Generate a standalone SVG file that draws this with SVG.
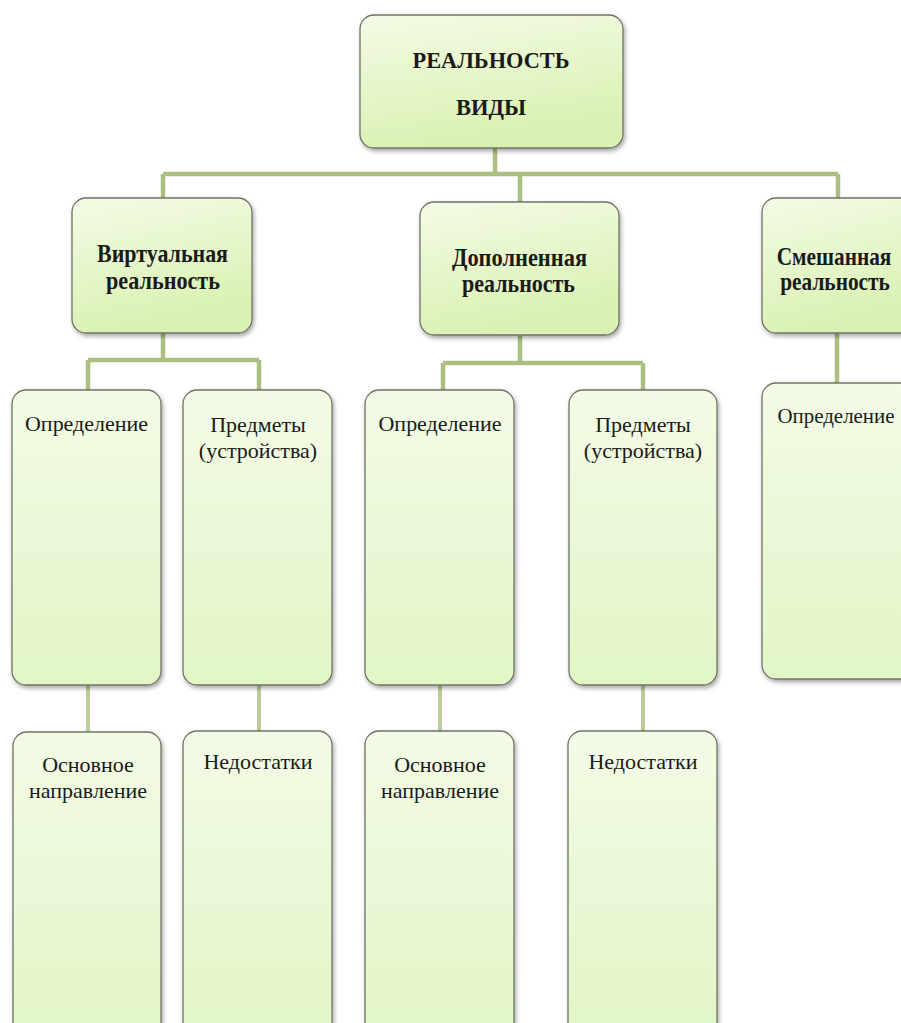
<svg xmlns="http://www.w3.org/2000/svg" width="901" height="1023" viewBox="0 0 901 1023">
<style>
.box{stroke:#6f7468;stroke-width:1.3;filter:url(#sh)}
.big{fill:url(#g1)}
.tall{fill:url(#g2)}
.b{font-family:"Liberation Serif",serif;font-weight:bold;fill:#1a1a1a;text-anchor:middle}
.r{font-family:"Liberation Serif",serif;fill:#1a1a1a;text-anchor:middle;font-size:22px}
.c{stroke:#aabf80;fill:none;stroke-width:4.5}
.c2{stroke:#bccb9a;fill:none;stroke-width:4}
</style>
<defs>
<linearGradient id="g1" x1="0" y1="0" x2="0.3" y2="1">
<stop offset="0" stop-color="#f4fbe6"/>
<stop offset="1" stop-color="#d9f1b2"/>
</linearGradient>
<linearGradient id="g2" x1="0" y1="0" x2="0" y2="1">
<stop offset="0" stop-color="#f3fbe6"/>
<stop offset="0.5" stop-color="#eaf8d6"/>
<stop offset="1" stop-color="#e2f6c6"/>
</linearGradient>
<filter id="sh" x="-10%" y="-10%" width="125%" height="125%">
<feDropShadow dx="1.5" dy="2.5" stdDeviation="2" flood-color="#000" flood-opacity="0.35"/>
</filter>
</defs>
<rect width="901" height="1023" fill="#ffffff"/>
<g id="connectors">
<path class="c" d="M495 148V174M163 174H838M163 174V200M520 174V204M838 174V200"/>
<path class="c" d="M163 333V360M88 360H259M88 360V392M259 360V392"/>
<path class="c" d="M520 335V363M443 363H643M443 363V392M643 363V392"/>
<path class="c" d="M837 333V385"/>
<path class="c2" d="M88 685V733M259 685V733M440 685V733M643 685V733"/>
</g>
<g id="root">
<rect class="box big" x="360" y="15" width="263" height="133" rx="14"/>
<text class="b" x="491" y="68" font-size="22.5" textLength="157" lengthAdjust="spacingAndGlyphs">РЕАЛЬНОСТЬ</text>
<text class="b" x="491" y="115" font-size="22.5">ВИДЫ</text>
</g>
<g id="vr">
<rect class="box big" x="72" y="198" width="180" height="135" rx="14"/>
<text class="b" x="162.5" y="262" font-size="24.5" textLength="131" lengthAdjust="spacingAndGlyphs">Виртуальная</text>
<text class="b" x="163" y="289" font-size="24.5" textLength="114" lengthAdjust="spacingAndGlyphs">реальность</text>
</g>
<g id="ar">
<rect class="box big" x="420" y="202" width="199" height="133" rx="14"/>
<text class="b" x="519.5" y="266" font-size="24.5" textLength="135" lengthAdjust="spacingAndGlyphs">Дополненная</text>
<text class="b" x="518.5" y="292" font-size="24.5" textLength="113" lengthAdjust="spacingAndGlyphs">реальность</text>
</g>
<g id="mr">
<rect class="box big" x="762" y="198" width="160" height="135" rx="14"/>
<text class="b" transform="translate(834 265) scale(0.87 1)" font-size="24.5">Смешанная</text>
<text class="b" transform="translate(835 290) scale(0.87 1)" font-size="24.5">реальность</text>
</g>
<g id="vr-def">
<rect class="box tall" x="12" y="390" width="149" height="295" rx="14"/>
<text class="r" x="86.5" y="431" textLength="123" lengthAdjust="spacingAndGlyphs">Определение</text>
</g>
<g id="vr-dev">
<rect class="box tall" x="183" y="390" width="149" height="295" rx="14"/>
<text class="r" x="258" y="432">Предметы</text>
<text class="r" x="258" y="458">(устройства)</text>
</g>
<g id="ar-def">
<rect class="box tall" x="365" y="390" width="149" height="295" rx="14"/>
<text class="r" x="440" y="431" textLength="123" lengthAdjust="spacingAndGlyphs">Определение</text>
</g>
<g id="ar-dev">
<rect class="box tall" x="569" y="390" width="148" height="295" rx="14"/>
<text class="r" x="643" y="432">Предметы</text>
<text class="r" x="643" y="458">(устройства)</text>
</g>
<g id="mr-def">
<rect class="box tall" x="762" y="383" width="160" height="296" rx="14"/>
<text class="r" x="836" y="423" textLength="117" lengthAdjust="spacingAndGlyphs">Определение</text>
</g>
<g id="vr-dir">
<rect class="box tall" x="13" y="732" width="148" height="305" rx="14"/>
<text class="r" x="88" y="772">Основное</text>
<text class="r" x="88" y="798">направление</text>
</g>
<g id="vr-cons">
<rect class="box tall" x="183" y="731" width="149" height="306" rx="14"/>
<text class="r" x="258" y="769">Недостатки</text>
</g>
<g id="ar-dir">
<rect class="box tall" x="365" y="731" width="149" height="306" rx="14"/>
<text class="r" x="440" y="772">Основное</text>
<text class="r" x="440" y="798">направление</text>
</g>
<g id="ar-cons">
<rect class="box tall" x="568" y="731" width="149" height="306" rx="14"/>
<text class="r" x="643" y="769">Недостатки</text>
</g>
</svg>
